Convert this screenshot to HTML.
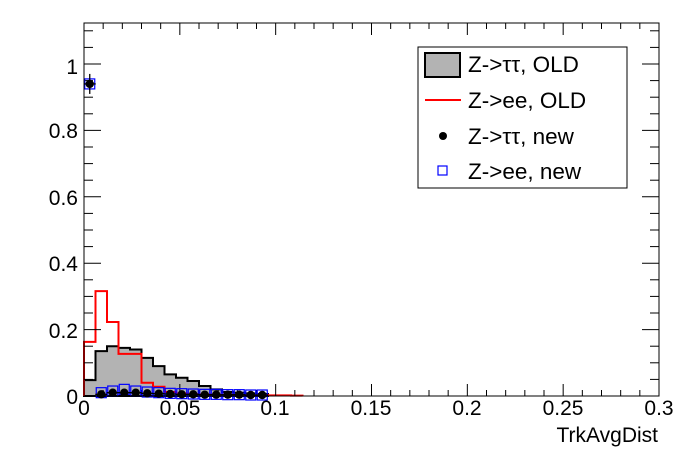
<!DOCTYPE html>
<html><head><meta charset="utf-8"><style>
html,body{margin:0;padding:0;background:#fff}
svg{display:block;font-family:"Liberation Sans",sans-serif}
</style></head><body>
<svg id="s" width="696" height="472" viewBox="0 0 696 472" xmlns="http://www.w3.org/2000/svg">
<rect width="696" height="472" fill="#fff"/>
<g id="g"></g>
<rect x="84" y="23" width="575" height="373" fill="none" stroke="#000" stroke-width="1"/>
<g font-size="21" text-anchor="middle">
<text x="84" y="415">0</text><text x="180" y="415">0.05</text><text x="275" y="415">0.1</text>
<text x="371" y="415">0.15</text><text x="467" y="415">0.2</text><text x="563" y="415">0.25</text><text x="659" y="415">0.3</text>
</g>
<g font-size="21" text-anchor="end">
<text x="78" y="404">0</text><text x="78" y="338">0.2</text><text x="78" y="271">0.4</text>
<text x="78" y="205">0.6</text><text x="78" y="138">0.8</text><text x="78" y="74">1</text>
</g>
<text x="658" y="442" font-size="21" text-anchor="end">TrkAvgDist</text>
<rect x="418" y="47" width="209" height="141" fill="#fff" stroke="#000" stroke-width="1"/>
<rect x="425" y="53" width="35" height="24" fill="#b3b3b3" stroke="#000" stroke-width="2"/>
<line x1="425" y1="100" x2="461" y2="100" stroke="#f00" stroke-width="2"/>
<circle cx="443" cy="136" r="4" fill="#000"/>
<rect x="438" y="166" width="9" height="9" fill="none" stroke="#00f" stroke-width="1.2"/>
<g font-size="22.5">
<text x="468" y="72">Z-&gt;ττ, OLD</text>
<text x="468" y="108">Z-&gt;ee, OLD</text>
<text x="468" y="144">Z-&gt;ττ, new</text>
<text x="468" y="179">Z-&gt;ee, new</text>
</g>
</svg>
<script>
var X=function(v){return 84+v/0.3*575},Y=function(v){return 396-v*332};
var bw=0.006,g=document.getElementById('g'),h='';
var blk=[0.048,0.135,0.15,0.145,0.14,0.115,0.09,0.065,0.055,0.045,0.03,0.02,0.012,0.01,0.008,0.006];
var red=[0.163,0.316,0.223,0.127,0.127,0.04,0.028,0.012,0.008,0.006,0.005,0.004,0.004,0.003,0.003,0.003,0.002,0.002,0.001];
function path(a){var d='M'+X(0)+' '+Y(0);for(var i=0;i<a.length;i++){d+=' L'+X(i*bw)+' '+Y(a[i])+' L'+X((i+1)*bw)+' '+Y(a[i]);}d+=' L'+X(a.length*bw)+' '+Y(0);return d;}
h+='<path d="'+path(blk)+' Z" fill="#b3b3b3" stroke="#000" stroke-width="2"/>';
h+='<path d="'+path(red)+'" fill="none" stroke="#f00" stroke-width="2"/>';
for(var i=0;i<=30;i++){var x=X(i*0.01),l=(i%5==0)?12:6;h+='<line x1="'+x+'" y1="396" x2="'+x+'" y2="'+(396-l)+'" stroke="#000"/><line x1="'+x+'" y1="23" x2="'+x+'" y2="'+(23+l)+'" stroke="#000"/>';}
for(var i=0;i<=22;i++){var y=Y(i*0.05),l=(i%4==0)?17:9;if(y<23)break;h+='<line x1="84" y1="'+y+'" x2="'+(84+l)+'" y2="'+y+'" stroke="#000"/><line x1="659" y1="'+y+'" x2="'+(659-l)+'" y2="'+y+'" stroke="#000"/>';}
var pb=[0.94,0.005,0.01,0.01,0.01,0.008,0.007,0.006,0.005,0.005,0.004,0.004,0.004,0.004,0.003,0.003];
var pr=[0.94,0.01,0.015,0.02,0.015,0.012,0.01,0.008,0.007,0.006,0.005,0.005,0.004,0.004,0.003,0.003];
for(var i=0;i<16;i++){var cx=X((i+0.5)*bw);
h+='<rect x="'+(cx-5)+'" y="'+(Y(pr[i])-5)+'" width="10" height="10" fill="none" stroke="#00f" stroke-width="1.2"/>';
h+='<line x1="'+(cx-6)+'" y1="'+Y(pb[i])+'" x2="'+(cx+6)+'" y2="'+Y(pb[i])+'" stroke="#000" stroke-width="1.3"/>';
if(i==0)h+='<line x1="'+cx+'" y1="'+(Y(pb[i])-10)+'" x2="'+cx+'" y2="'+(Y(pb[i])+10)+'" stroke="#000" stroke-width="1.3"/>';
h+='<circle cx="'+cx+'" cy="'+Y(pb[i])+'" r="4.2" fill="#000"/>';}
g.innerHTML=h;
</script>
</body></html>
